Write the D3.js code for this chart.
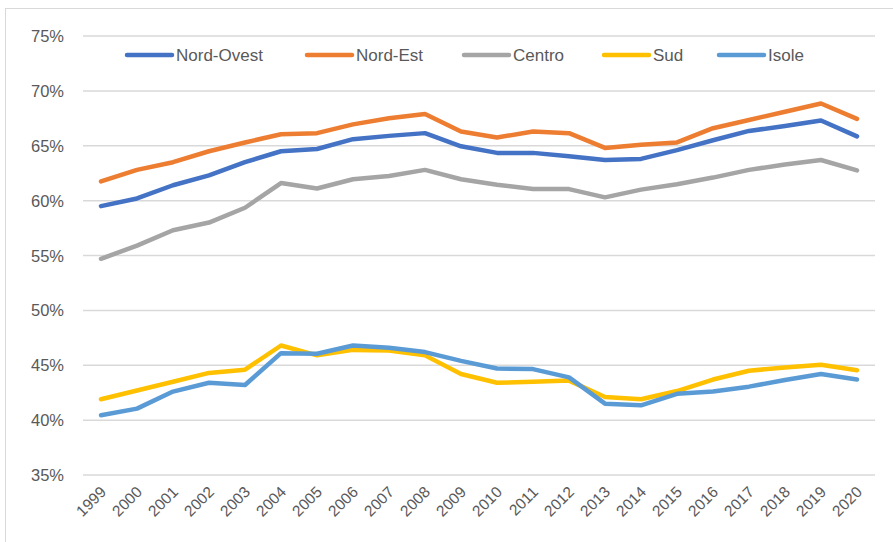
<!DOCTYPE html>
<html>
<head>
<meta charset="utf-8">
<script src="https://cdn.jsdelivr.net/npm/d3@7"></script>
<style>
  body { margin: 0; background: #fff; }
  svg { display: block; font-family: "Liberation Sans", Arial, sans-serif; }
</style>
</head>
<body>
<main></main>
<script>
// years on the category axis
const years = ["1999","2000","2001","2002","2003","2004","2005","2006","2007","2008","2009",
  "2010","2011","2012","2013","2014","2015","2016","2017","2018","2019","2020"];

// values (percent)
const nordOvest = [59.5,60.2,61.4,62.3,63.5,64.5,64.7,65.6,65.9,66.15,64.95,
  64.35,64.35,64.05,63.7,63.8,64.6,65.5,66.35,66.8,67.3,65.85];
const nordEst = [61.75,62.8,63.5,64.5,65.3,66.05,66.15,66.95,67.5,67.9,66.3,
  65.75,66.3,66.15,64.8,65.1,65.3,66.6,67.35,68.1,68.85,67.45];
const centro = [54.7,55.9,57.3,58.0,59.35,61.6,61.1,61.95,62.25,62.8,61.95,
  61.45,61.05,61.05,60.3,61.0,61.5,62.1,62.8,63.3,63.7,62.75];
const sud = [41.9,42.7,43.5,44.3,44.6,46.8,45.9,46.4,46.35,45.9,44.2,
  43.4,43.5,43.6,42.1,41.9,42.65,43.7,44.5,44.8,45.05,44.55];
const isole = [40.45,41.05,42.6,43.4,43.2,46.1,46.05,46.8,46.6,46.2,45.4,
  44.7,44.65,43.9,41.5,41.35,42.4,42.6,43.05,43.65,44.2,43.7];

const seriesNames = ["Nord-Ovest","Nord-Est","Centro","Sud","Isole"];
const yTicks = [35,40,45,50,55,60,65,70,75];

const colors = ["#4472C4","#ED7D31","#A5A5A5","#FFC000","#5B9BD5"];
const series = [nordOvest, nordEst, centro, sud, isole].map((v, i) => ({name: seriesNames[i], values: v, color: colors[i]}));

const width = 893, height = 542;
const svg = d3.select("main").append("svg")
  .attr("width", width).attr("height", height);

// chart border
svg.append("rect")
  .attr("x", 5.5).attr("y", 8.5)
  .attr("width", width).attr("height", height)
  .attr("fill", "none").attr("stroke", "#D9D9D9");

const plotLeft = 83, plotRight = 875, plotTop = 36, plotBottom = 475;

const x = d3.scaleBand().domain(years).range([plotLeft, plotRight]);
const y = d3.scaleLinear().domain([35, 75]).range([plotBottom, plotTop]);

// gridlines
svg.append("g").selectAll("line")
  .data(yTicks)
  .join("line")
    .attr("x1", plotLeft).attr("x2", plotRight)
    .attr("y1", d => y(d)).attr("y2", d => y(d))
    .attr("stroke", "#D9D9D9").attr("stroke-width", 1.5);

// y labels
svg.append("g").selectAll("text")
  .data(yTicks)
  .join("text")
    .attr("x", 64)
    .attr("y", d => y(d) + 6)
    .attr("text-anchor", "end")
    .attr("fill", "#595959")
    .attr("font-size", 16.5)
    .text(d => d + "%");

// x labels, rotated
svg.append("g").selectAll("text")
  .data(years)
  .join("text")
    .attr("transform", d => `translate(${x(d) + x.bandwidth() / 2 + 6},${493}) rotate(-45)`)
    .attr("text-anchor", "end")
    .attr("fill", "#595959")
    .attr("font-size", 15.5)
    .text(d => d);

// lines
const line = d3.line()
  .x((d, i) => x(years[i]) + x.bandwidth() / 2)
  .y(d => y(d));

svg.append("g").selectAll("path")
  .data(series)
  .join("path")
    .attr("d", d => line(d.values))
    .attr("fill", "none")
    .attr("stroke", d => d.color)
    .attr("stroke-width", 4.5)
    .attr("stroke-linejoin", "round")
    .attr("stroke-linecap", "round");

// legend
const legendX = [127, 307, 464, 604, 719];
const legend = svg.append("g").selectAll("g")
  .data(series)
  .join("g")
    .attr("transform", (d, i) => `translate(${legendX[i]},55)`);
legend.append("line")
  .attr("x1", 0).attr("x2", 45)
  .attr("stroke", d => d.color)
  .attr("stroke-width", 4.5)
  .attr("stroke-linecap", "round");
legend.append("text")
  .attr("x", 49).attr("y", 6)
  .attr("fill", "#595959")
  .attr("font-size", 17)
  .text(d => d.name);
</script>
</body>
</html>
